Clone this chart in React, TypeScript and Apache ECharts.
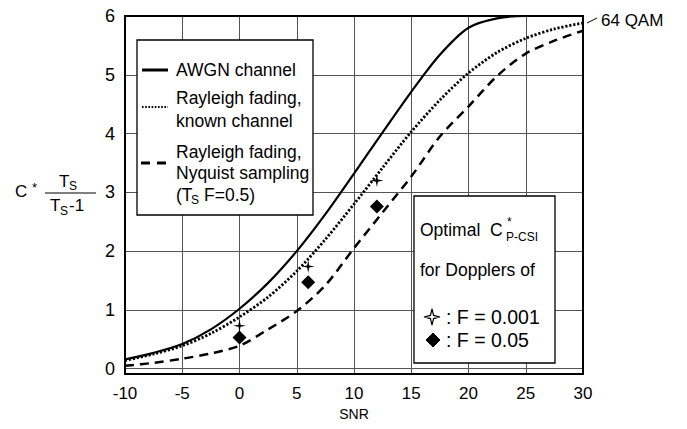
import React, { useEffect, useRef } from 'react';
import * as echarts from 'echarts';

// SNR grid points (x axis)
const snr = [-10, -7.5, -5, -2.5, 0, 2.5, 5, 7.5, 10, 12.5, 15, 17.5, 20, 22.5, 25, 27.5, 30];
// AWGN channel (solid)
const awgn = [0.16, 0.27, 0.42, 0.67, 1.02, 1.46, 2.0, 2.63, 3.32, 4.02, 4.71, 5.34, 5.8, 5.96, 6.0, 6.0, 6.0];
// Rayleigh fading, known channel (dotted)
const rayleighKnown = [0.14, 0.25, 0.39, 0.6, 0.88, 1.22, 1.66, 2.2, 2.8, 3.42, 4.03, 4.57, 5.03, 5.38, 5.62, 5.78, 5.88];
// Rayleigh fading, Nyquist sampling (dashed)
const rayleighNyquist = [0.05, 0.1, 0.17, 0.26, 0.39, 0.67, 0.98, 1.42, 2.05, 2.66, 3.27, 3.95, 4.46, 4.98, 5.36, 5.58, 5.75];
// Optimal C*_P-CSI markers
const markerSnr = [0, 6, 12];
const starValues = [0.73, 1.74, 3.2]; // F = 0.001
const diamondValues = [0.53, 1.47, 2.76]; // F = 0.05

const FONT = '"Liberation Sans", Arial, Helvetica, sans-serif';
const STAR_PATH = 'path://M0,-10 L1.6,-1.6 L10,0 L1.6,1.6 L0,10 L-1.6,1.6 L-10,0 L-1.6,-1.6 Z';

export default function App() {
  const ref = useRef<HTMLDivElement>(null);

  useEffect(() => {
    const chart = echarts.init(ref.current as HTMLDivElement, null, { renderer: 'svg' });
    const pair = (ys: number[]) => snr.map((x, i) => [x, ys[i]]);
    const txt = (text: string, x: number, y: number, size: number, extra: any = {}) => ({
      type: 'text',
      x,
      y,
      z: 20,
      style: {
        text,
        fontSize: size,
        fontFamily: FONT,
        fill: '#000',
        verticalAlign: 'middle',
        align: 'left',
        ...extra,
      },
    });
    const ln = (x1: number, y1: number, x2: number, y2: number, width: number, dash?: number[]) => ({
      type: 'line',
      z: 20,
      shape: { x1, y1, x2, y2 },
      style: { stroke: '#000', lineWidth: width, lineDash: dash || null },
    });

    const gl = 125, gt = 16, gw = 458, gh = 358;
    const LS = 17.5;

    chart.setOption({
      animation: false,
      backgroundColor: '#fff',
      grid: { left: gl, top: gt, width: gw, height: gh },
      xAxis: {
        type: 'value',
        min: -10,
        max: 30,
        interval: 5,
        name: 'SNR',
        nameLocation: 'middle',
        nameGap: 32,
        nameTextStyle: { fontSize: 14, fontFamily: FONT, color: '#000' },
        axisLine: { show: false },
        axisTick: { show: false },
        axisLabel: { fontSize: 17, color: '#000', margin: 11, fontFamily: FONT },
        splitLine: { show: true, lineStyle: { color: '#555', width: 1 } },
      },
      yAxis: {
        type: 'value',
        min: -0.09,
        max: 6,
        splitNumber: 6,
        axisLine: { show: false },
        axisTick: { show: false },
        axisLabel: {
          fontSize: 18,
          color: '#000',
          margin: 10,
          fontFamily: FONT,
          formatter: (v: number) => (v < 0 ? '' : String(Math.round(v))),
        },
        splitLine: { show: true, lineStyle: { color: '#555', width: 1 } },
      },
      series: [
        {
          type: 'line',
          data: pair(awgn),
          smooth: 0.3,
          symbol: 'none',
          lineStyle: { color: '#000', width: 2.2 },
          z: 3,
        },
        {
          type: 'line',
          data: pair(rayleighKnown),
          smooth: 0.3,
          symbol: 'none',
          lineStyle: { color: '#000', width: 2.8, type: [2.2, 1.8] },
          z: 3,
        },
        {
          type: 'line',
          data: pair(rayleighNyquist),
          smooth: 0.3,
          symbol: 'none',
          lineStyle: { color: '#000', width: 2.5, type: [9, 6] },
          z: 3,
        },
        {
          type: 'scatter',
          data: markerSnr.map((x, i) => [x, starValues[i]]),
          symbol: STAR_PATH,
          symbolSize: 13,
          itemStyle: { color: '#000', opacity: 1 },
          z: 4,
        },
        {
          type: 'scatter',
          data: markerSnr.map((x, i) => [x, diamondValues[i]]),
          symbol: 'diamond',
          symbolSize: 14,
          itemStyle: { color: '#000', opacity: 1 },
          z: 4,
        },
      ],
      graphic: [
        // plot frame
        {
          type: 'rect',
          z: 15,
          shape: { x: gl, y: gt, width: gw, height: gh },
          style: { fill: 'none', stroke: '#000', lineWidth: 2 },
        },
        // y-axis title: C* Ts / (Ts - 1)
        txt('C', 15, 191, 17),
        txt('*', 32, 187, 13),
        txt('T', 59, 181, 17),
        txt('S', 69, 186, 12),
        ln(45, 193, 96, 193, 1.2),
        txt('T', 50, 205, 17),
        txt('S', 60, 211, 12),
        txt('-1', 69, 205, 17),
        // 64 QAM label
        ln(587, 23, 597, 18, 1),
        txt('64 QAM', 601, 20, 17),
        // left legend box
        {
          type: 'rect',
          z: 18,
          shape: { x: 137, y: 40, width: 176, height: 175 },
          style: { fill: '#fff', stroke: '#000', lineWidth: 1.3 },
        },
        ln(142, 70, 168, 70, 3),
        txt('AWGN channel', 176, 70, LS),
        ln(142, 107, 168, 107, 2, [1.6, 1.6]),
        txt('Rayleigh fading,', 176, 98, LS),
        txt('known channel', 176, 121, LS),
        ln(141, 163, 168, 163, 3, [9, 7]),
        txt('Rayleigh fading,', 176, 152, LS),
        txt('Nyquist sampling', 176, 173, LS),
        txt('(T', 176, 195, LS),
        txt('S', 191, 200, 12),
        txt('F=0.5)', 204, 195, LS),
        // right inset box
        {
          type: 'rect',
          z: 18,
          shape: { x: 414, y: 196, width: 141, height: 167 },
          style: { fill: '#fff', stroke: '#000', lineWidth: 1.3 },
        },
        txt('Optimal', 420, 230, LS),
        txt('C', 490, 230, LS),
        txt('*', 507, 222, 12),
        txt('P-CSI', 506, 237, 12),
        txt('for Dopplers of', 420, 270, LS),
        {
          type: 'polygon',
          z: 20,
          shape: {
            points: [
              [432, 309], [433.6, 315.4], [440, 317], [433.6, 318.6],
              [432, 325], [430.4, 318.6], [424, 317], [430.4, 315.4],
            ],
          },
          style: { fill: '#fff', stroke: '#000', lineWidth: 1.2 },
        },
        txt(': F = 0.001', 446, 317, 19.5),
        {
          type: 'polygon',
          z: 20,
          shape: { points: [[433, 333], [440, 340], [433, 347], [426, 340]] },
          style: { fill: '#000', stroke: '#000', lineWidth: 1 },
        },
        txt(': F = 0.05', 446, 340, 19.5),
      ],
    });

    return () => {
      chart.dispose();
    };
  }, []);

  return (
    <div
      ref={ref}
      style={{ position: 'absolute', left: 0, top: 0, width: 687, height: 429 }}
    />
  );
}
